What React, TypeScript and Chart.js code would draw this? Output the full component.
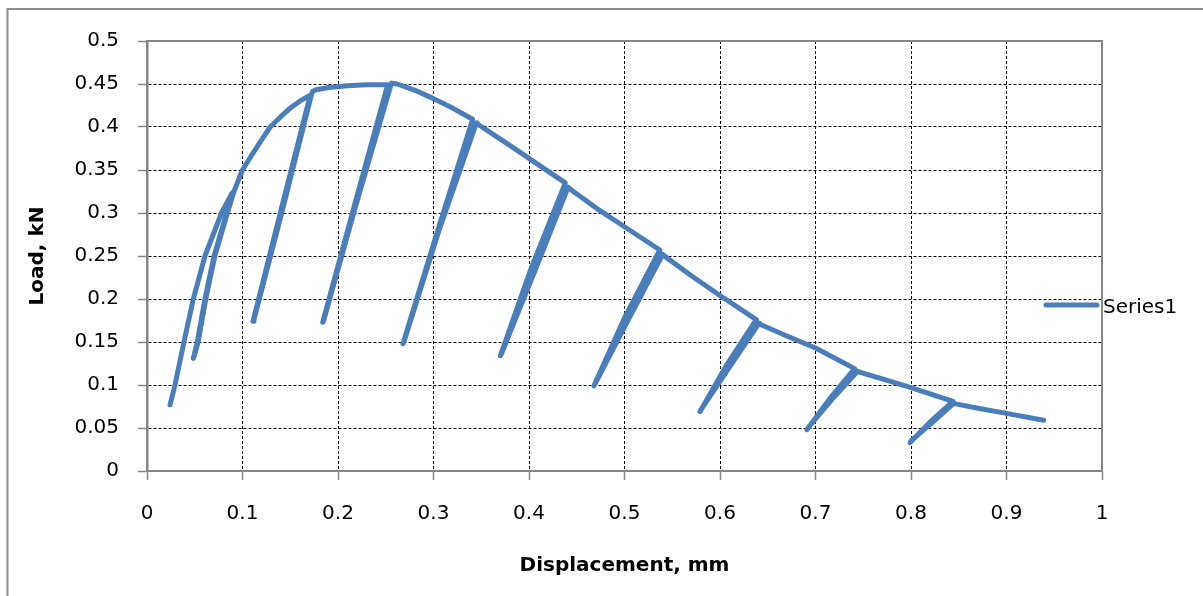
import React, { useEffect, useRef } from "react";
import { Chart, registerables } from "chart.js";

Chart.register(...registerables);

// Displacement (mm) and load (kN), in drawing order
const displacement = [
  0.0241, 0.0293, 0.0387, 0.0485, 0.0607, 0.078, 0.089,
  0.0875, 0.0834, 0.0702, 0.0607, 0.0527, 0.0485,
  0.0495, 0.0535, 0.0615, 0.071, 0.0842, 0.091, 0.1,
  0.11, 0.12, 0.129, 0.14, 0.15, 0.16, 0.171,
  0.1395, 0.111,
  0.112, 0.141, 0.173,
  0.176, 0.19, 0.21, 0.23, 0.252,
  0.2175, 0.184,
  0.185, 0.219, 0.256,
  0.262, 0.28, 0.3, 0.32, 0.341,
  0.3045, 0.268,
  0.269, 0.3058, 0.345,
  0.348, 0.37, 0.39, 0.41, 0.438,
  0.402, 0.37,
  0.371, 0.407, 0.441,
  0.444, 0.47, 0.5, 0.537,
  0.5, 0.468,
  0.469, 0.505, 0.54,
  0.543, 0.57, 0.6, 0.638,
  0.6065, 0.579,
  0.58, 0.611, 0.641,
  0.643, 0.67, 0.7, 0.741,
  0.7145, 0.691,
  0.692, 0.7175, 0.744,
  0.746, 0.77, 0.8, 0.844,
  0.82, 0.799,
  0.8, 0.823, 0.845,
  0.847, 0.87, 0.9, 0.939,
];

const load = [
  0.077, 0.1, 0.15, 0.2, 0.25, 0.3, 0.323,
  0.316, 0.3, 0.25, 0.2, 0.15, 0.131,
  0.134, 0.15, 0.2, 0.25, 0.3, 0.325, 0.35,
  0.368, 0.385, 0.4, 0.412, 0.422, 0.43, 0.437,
  0.3, 0.174,
  0.176, 0.3, 0.441,
  0.443, 0.446, 0.448, 0.449, 0.449,
  0.31, 0.173,
  0.175, 0.31, 0.451,
  0.45, 0.443, 0.433, 0.422, 0.409,
  0.28, 0.148,
  0.15, 0.28, 0.405,
  0.402, 0.386, 0.371, 0.356, 0.335,
  0.235, 0.134,
  0.136, 0.235, 0.33,
  0.327, 0.306, 0.284, 0.257,
  0.178, 0.099,
  0.101, 0.178, 0.252,
  0.249, 0.227, 0.204, 0.176,
  0.1225, 0.069,
  0.071, 0.1225, 0.172,
  0.17, 0.157, 0.143, 0.119,
  0.0835, 0.048,
  0.05, 0.0835, 0.116,
  0.115, 0.107, 0.097, 0.081,
  0.057, 0.033,
  0.035, 0.057, 0.079,
  0.078, 0.073, 0.067, 0.059,
];

const xTicks = [0, 0.1, 0.2, 0.3, 0.4, 0.5, 0.6, 0.7, 0.8, 0.9, 1];
const yTicks = [0, 0.05, 0.1, 0.15, 0.2, 0.25, 0.3, 0.35, 0.4, 0.45, 0.5];

const seriesName = "Series1";
const xTitle = "Displacement, mm";
const yTitle = "Load, kN";

const FONT = "'DejaVu Sans', sans-serif";
const BLUE = "#4a7ebb";
const AXIS_GRAY = "#868686";

const fmt = (v: number) => String(Math.round(Number(v) * 100) / 100);

const framePlugin = {
  id: "excelFrame",
  beforeDraw(chart: any) {
    const ctx = chart.ctx;
    ctx.save();
    ctx.strokeStyle = "#8c8c8c";
    ctx.lineWidth = 2;
    ctx.strokeRect(7.5, 9, 1400, 800);
    ctx.restore();
  },
  beforeDatasetsDraw(chart: any) {
    const { left, top, right, bottom } = chart.chartArea;
    const ctx = chart.ctx;
    ctx.save();
    ctx.strokeStyle = AXIS_GRAY;
    ctx.lineWidth = 2;
    ctx.strokeRect(left, top, right - left, bottom - top);
    ctx.restore();
  },
  afterDraw(chart: any) {
    const ctx = chart.ctx;
    ctx.save();
    ctx.strokeStyle = BLUE;
    ctx.lineWidth = 5;
    ctx.lineCap = "round";
    ctx.beginPath();
    ctx.moveTo(1046, 305);
    ctx.lineTo(1097, 305);
    ctx.stroke();
    ctx.fillStyle = "#000";
    ctx.font = `20px ${FONT}`;
    ctx.textBaseline = "alphabetic";
    ctx.textAlign = "left";
    ctx.fillText(seriesName, 1103, 313);
    ctx.restore();
  },
};

export default function App() {
  const ref = useRef<HTMLCanvasElement | null>(null);

  useEffect(() => {
    if (!ref.current) return;
    const points = displacement.map((x, i) => ({ x, y: load[i] }));
    const chart = new Chart(ref.current, {
      type: "scatter",
      data: {
        datasets: [
          {
            label: seriesName,
            data: points,
            showLine: true,
            borderColor: BLUE,
            backgroundColor: BLUE,
            borderWidth: 5,
            pointRadius: 0,
            borderCapStyle: "round",
            borderJoinStyle: "round",
            tension: 0,
          },
        ],
      },
      options: {
        responsive: false,
        animation: false,
        devicePixelRatio: 1,
        layout: { padding: { left: 0, top: 41, right: 101, bottom: 0 } },
        plugins: {
          legend: { display: false },
          tooltip: { enabled: false },
        },
        scales: {
          x: {
            type: "linear",
            min: 0,
            max: 1,
            afterFit: (s: any) => {
              s.height = 125;
            },
            afterBuildTicks: (s: any) => {
              s.ticks = xTicks.map((v) => ({ value: v }));
            },
            ticks: {
              color: "#000",
              font: { family: FONT, size: 20, lineHeight: 1.2 },
              padding: 22,
              maxRotation: 0,
              autoSkip: false,
              callback: (v: any) => fmt(v),
            },
            grid: {
              color: "#000",
              lineWidth: 1,
              tickLength: 9,
              tickColor: AXIS_GRAY,
              tickWidth: 1.5,
              tickBorderDash: [],
            },
            border: { color: AXIS_GRAY, width: 2, dash: [3, 2] },
            title: {
              display: true,
              text: xTitle,
              color: "#000",
              font: { family: FONT, size: 20, weight: "bold", lineHeight: 1.2 },
              padding: { top: 0, bottom: 18 },
            },
          },
          y: {
            type: "linear",
            min: 0,
            max: 0.5,
            afterFit: (s: any) => {
              s.width = 147;
            },
            afterBuildTicks: (s: any) => {
              s.ticks = yTicks.map((v) => ({ value: v }));
            },
            ticks: {
              color: "#000",
              font: { family: FONT, size: 20, lineHeight: 1.2 },
              padding: 19,
              autoSkip: false,
              callback: (v: any) => fmt(v),
            },
            grid: {
              color: "#000",
              lineWidth: 1,
              tickLength: 9,
              tickColor: AXIS_GRAY,
              tickWidth: 1.5,
              tickBorderDash: [],
            },
            border: { color: AXIS_GRAY, width: 2.5, dash: [3, 2] },
            title: {
              display: true,
              text: yTitle,
              color: "#000",
              font: { family: FONT, size: 20, weight: "bold", lineHeight: 1.2 },
              padding: { top: 26, bottom: 0 },
            },
          },
        },
      },
      plugins: [framePlugin],
    } as any);
    return () => chart.destroy();
  }, []);

  return (
    <canvas
      ref={ref}
      width={1203}
      height={596}
      style={{ position: "absolute", left: 0, top: 0, width: 1203, height: 596 }}
    />
  );
}
